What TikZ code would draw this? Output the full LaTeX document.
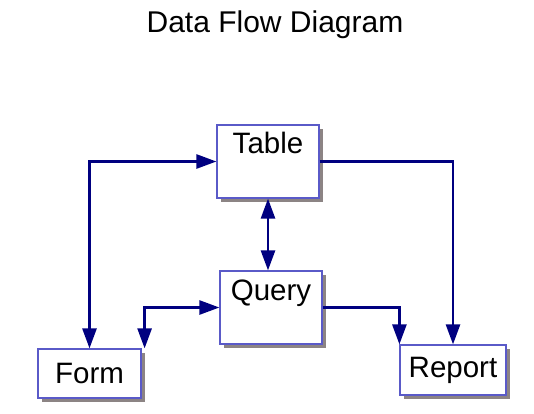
\documentclass[tikz,border=0pt]{standalone}
\usepackage{fontspec}
\setmainfont{Liberation Sans}
\usepackage{xcolor}
\usetikzlibrary{arrows.meta,shadows}
\definecolor{boxline}{HTML}{5A5AC8}
\definecolor{flowline}{HTML}{000080}
\definecolor{shade}{HTML}{8C8484}

\begin{document}
\begin{tikzpicture}[
    x=1pt,y=-1pt,
    entity/.style={draw=boxline,line width=1.2pt,fill=white,inner sep=0pt,
      font=\fontsize{29.5}{32}\selectfont,
      drop shadow={shadow xshift=4pt,shadow yshift=-4pt,fill=shade,opacity=1}},
    topbox/.style={entity,minimum width=#1,text height=28pt,text depth=45pt},
    flow/.style={draw=flowline,line width=2.6pt,
      arrows={-Triangle[length=20pt,width=14pt]}},
    biflow/.style={flow,arrows={Triangle[length=20pt,width=14pt]-Triangle[length=20pt,width=14pt]}}
  ]
    \useasboundingbox (0,0) rectangle (534,413);
    \node[font=\fontsize{30}{34}\selectfont,anchor=base] (title) at (275,32) {Data Flow Diagram};
    \node[topbox=102pt] (table) at (268,161.5) {Table};
    \node[topbox=102pt,text height=29pt,text depth=44pt] (query) at (271,307.5) {Query};
    \node[entity,minimum width=103pt,minimum height=49pt] (form) at (89.5,373.5) {Form};
    \node[entity,minimum width=106pt,minimum height=50pt] (report) at (453,370) {Report};
    \coordinate (formcorner) at ([xshift=3pt]form.north east);
    \draw[biflow] (form.north) |- (table.west);
    \draw[flow] (table.east) -| (report.north);
    \draw[biflow] (table.south) -- (table.south |- query.north);
    \draw[biflow] (formcorner) |- (query.west);
    \draw[flow] (query.east) -| (report.north west);
  \end{tikzpicture}
\end{document}
